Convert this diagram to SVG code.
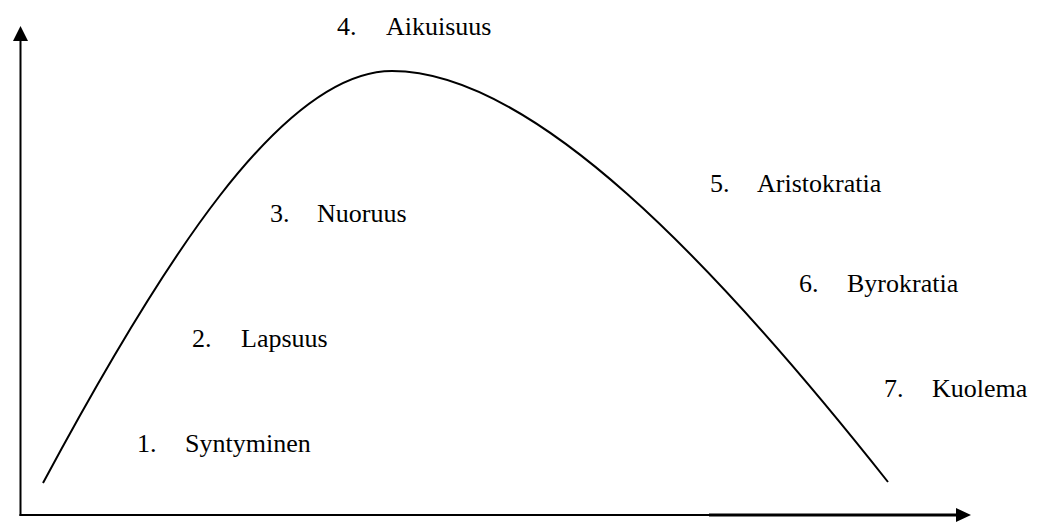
<svg xmlns="http://www.w3.org/2000/svg" width="1039" height="523" viewBox="0 0 1039 523">
<style>
.ax{stroke:#000;stroke-width:2;fill:none}
</style>
<rect width="1039" height="523" fill="#fff"/>
<g id="axes">
<line class="ax" x1="20.5" y1="40" x2="20.5" y2="516"/>
<polygon points="20.5,26 13,41 28,41" fill="#000"/>
<line class="ax" x1="19.5" y1="515" x2="709" y2="515"/>
<line x1="709" y1="515" x2="958" y2="515" stroke="#000" stroke-width="3"/>
<polygon points="971,515 956,508 956,522" fill="#000"/>
</g>
<g id="curve">
<path class="ax" d="M43,483 C160,265 282,71 392,71 C532,71 714,262 888,482"/>
</g>
<g font-family="Liberation Serif, Times New Roman, DejaVu Serif, serif" font-size="26" fill="#000">
<g id="label1"><text x="137" y="452">1.</text><text x="185" y="452">Syntyminen</text></g>
<g id="label2"><text x="192" y="347">2.</text><text x="241" y="347">Lapsuus</text></g>
<g id="label3"><text x="270" y="222">3.</text><text x="317" y="222">Nuoruus</text></g>
<g id="label4"><text x="337" y="35">4.</text><text x="386" y="35">Aikuisuus</text></g>
<g id="label5"><text x="710" y="192">5.</text><text x="757" y="192">Aristokratia</text></g>
<g id="label6"><text x="799" y="292">6.</text><text x="847" y="292">Byrokratia</text></g>
<g id="label7"><text x="884" y="397">7.</text><text x="932" y="397">Kuolema</text></g>
</g>
</svg>
